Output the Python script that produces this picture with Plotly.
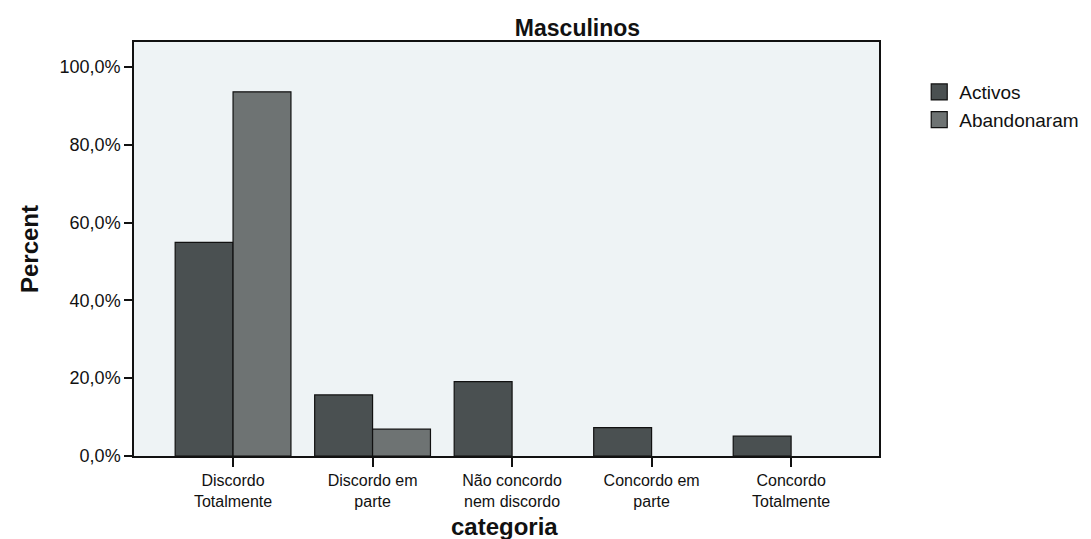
import plotly.graph_objects as go

categorias = [
    "Discordo<br>Totalmente",
    "Discordo em<br>parte",
    "Não concordo<br>nem discordo",
    "Concordo em<br>parte",
    "Concordo<br>Totalmente",
]
activos = [54.9, 15.7, 19.1, 7.3, 5.1]
abandonaram = [93.6, 6.9, 0.0, 0.0, 0.0]
y_ticks = [0, 20, 40, 60, 80, 100]
y_labels = ["0,0%", "20,0%", "40,0%", "60,0%", "80,0%", "100,0%"]

font = "Liberation Sans, Arial, sans-serif"
cor_activos = "#4a5051"
cor_aband = "#6e7373"
x = list(range(len(categorias)))

fig = go.Figure()
fig.add_trace(go.Bar(
    x=x, y=activos, name="Activos", showlegend=False,
    marker=dict(color=cor_activos,
                line=dict(color="#111111", width=[1.2 if v > 0 else 0 for v in activos])),
))
fig.add_trace(go.Bar(
    x=x, y=abandonaram, name="Abandonaram", showlegend=False,
    marker=dict(color=cor_aband,
                line=dict(color="#111111", width=[1.2 if v > 0 else 0 for v in abandonaram])),
))
# legend entries with bigger square swatches
for nome, cor in [("Activos", cor_activos), ("Abandonaram", cor_aband)]:
    fig.add_trace(go.Scatter(
        x=[None], y=[None], mode="markers", name=nome,
        marker=dict(symbol="square", size=20, color=cor, line=dict(color="#111111", width=1.2)),
    ))

fig.update_layout(
    width=1091, height=539,
    margin=dict(l=126, r=220, t=34, b=91),
    paper_bgcolor="white", plot_bgcolor="#eef3f5",
    font=dict(family=font, size=19, color="#111111"),
    barmode="group", bargap=0.17, bargroupgap=0,
    title=dict(text="<b>Masculinos</b>", x=0.522, xanchor="center",
               y=1 - 20 / 539, yanchor="middle", yref="container",
               font=dict(size=23, family=font)),
    legend=dict(x=1.054, y=0.925, xanchor="left", yanchor="top",
                font=dict(size=19), tracegroupgap=0, bgcolor="rgba(0,0,0,0)"),
    annotations=[dict(text="<b>categoria</b>", x=0.497, y=-0.17, xref="paper", yref="paper",
                      xanchor="center", yanchor="middle", showarrow=False,
                      font=dict(size=24))],
)
fig.update_xaxes(
    range=[-0.71, 4.63], tickmode="array", tickvals=x, ticktext=categorias,
    tickfont=dict(size=16),
    ticks="outside", ticklen=9, tickcolor="#111111", tickwidth=1.5,
    showline=True, linecolor="#111111", linewidth=1.5, mirror=True,
    showgrid=False, zeroline=False, automargin=False,
)
fig.update_yaxes(
    range=[0, 106.4], tickmode="array", tickvals=y_ticks, ticktext=y_labels,
    tickfont=dict(size=18),
    ticks="outside", ticklen=8, tickcolor="#111111", tickwidth=1.5,
    showline=True, linecolor="#111111", linewidth=1.5, mirror=True,
    showgrid=False, zeroline=False, automargin=False,
    title=dict(text="<b>Percent</b>", font=dict(size=24), standoff=14),
)

fig.write_html("out.html")
